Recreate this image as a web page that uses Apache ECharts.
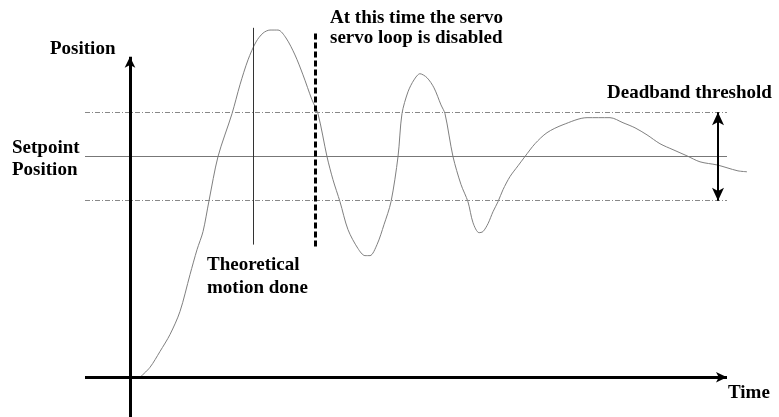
<!DOCTYPE html>
<html>
<head>
<meta charset="utf-8">
<script src="https://cdn.jsdelivr.net/npm/echarts@6/dist/echarts.min.js"></script>
<style>html,body{margin:0;padding:0;background:#fff;}#c{width:779px;height:417px;}</style>
</head>
<body>
<div id="c"></div>
<script>
// Response curve: time vs position (setpoint = 1)
const responseTime = [1.67,3.33,5,6.67,8.33,10,11.17,12.17,13.17,14.67,17,18.33,19.67,21,22.17,23.33,24.67,26,27.5,28.83,30.33,31.33,32.83,33.83,35,36.33,38,39.17,40,41.17,42.33,43.5,44.67,45.33,46.33,47.33,48.33,49.5,50.67,51.83,52.5,53.83,55.17,56.33,57.17,58.17,58.83,59.67,60.5,61.33,62.17,63.33,64.67,65.83,67.5,69.5,72.17,76.17,80,82.17,84.17,86.17,88.33,90.5,92.83,95,97.83,99.5,101.33,102.83];
const responsePos = [0,0.045,0.117,0.194,0.298,0.465,0.578,0.66,0.8,1.0,1.194,1.325,1.438,1.519,1.559,1.573,1.573,1.537,1.46,1.37,1.257,1.194,1.0,0.895,0.795,0.669,0.583,0.551,0.551,0.601,0.691,0.795,1.0,1.194,1.293,1.347,1.375,1.357,1.311,1.234,1.194,1.0,0.873,0.795,0.7,0.655,0.66,0.696,0.75,0.795,0.85,0.909,0.958,1.0,1.058,1.108,1.144,1.176,1.176,1.153,1.13,1.098,1.058,1.031,1.003,0.976,0.962,0.949,0.935,0.931];

const setpoint = 1.0;
const deadband = 0.2;
const refLineSpan = [-7.5, 99.5];          // time extent of horizontal reference lines
const timeAxisSpan = [-7.5, 99.5];         // drawn time axis
const positionAxisSpan = [-0.18, 1.452];   // drawn position axis
const theoreticalDone = {t: 20.5, span: [0.601, 1.583]};
const servoDisabled = {t: 30.83, span: [0.592, 1.565]};
const deadbandArrowT = 98;

const curve = responseTime.map((t, i) => [t, responsePos[i]]);
const font = '"Liberation Serif", "Times New Roman", serif';

function seg(a, b, style, symbols, size) {
  return {
    type: 'line', silent: true, symbol: 'none', animation: false,
    data: [],
    markLine: {
      silent: true, animation: false,
      symbol: symbols || ['none', 'none'],
      symbolSize: size || [8, 11],
      label: {show: false},
      lineStyle: style,
      emphasis: {disabled: true},
      data: [[{coord: a}, {coord: b}]]
    }
  };
}

const chart = echarts.init(document.getElementById('c'), null, {renderer: 'canvas'});
const txt = (x, y, s) => ({type: 'text', left: x, top: y, silent: true,
  style: {text: s, font: 'bold 19px ' + font, fill: '#000'}});

chart.setOption({
  backgroundColor: '#fff',
  animation: false,
  grid: {left: 10, right: 13, top: 2, bottom: 0},
  xAxis: {type: 'value', min: -20, max: 106, show: false},
  yAxis: {type: 'value', min: -0.18, max: 1.7, show: false},
  series: [
    seg([refLineSpan[0], setpoint + deadband], [refLineSpan[1], setpoint + deadband], {color: '#888', width: 1, type: [5, 2, 1, 2]}),
    seg([refLineSpan[0], setpoint - deadband], [refLineSpan[1], setpoint - deadband], {color: '#888', width: 1, type: [5, 2, 1, 2]}),
    seg([refLineSpan[0], setpoint], [refLineSpan[1], setpoint], {color: '#777', width: 1, type: 'solid'}),
    seg([theoreticalDone.t, theoreticalDone.span[0]], [theoreticalDone.t, theoreticalDone.span[1]], {color: '#333', width: 1, type: 'solid'}),
    seg([servoDisabled.t, servoDisabled.span[0]], [servoDisabled.t, servoDisabled.span[1]], {color: '#000', width: 3, type: [6, 3]}),
    seg([timeAxisSpan[0], 0], [timeAxisSpan[1], 0], {color: '#000', width: 3, type: 'solid'}, ['none', 'arrow'], [8, 11]),
    seg([0, positionAxisSpan[0]], [0, positionAxisSpan[1]], {color: '#000', width: 3, type: 'solid'}, ['none', 'arrow'], [8, 11]),
    seg([deadbandArrowT, setpoint - deadband], [deadbandArrowT, setpoint + deadband], {color: '#000', width: 2, type: 'solid'}, ['arrow', 'arrow'], [9, 13]),
    {
      type: 'line', data: curve, smooth: 0.3, symbol: 'none', silent: true,
      lineStyle: {color: '#808080', width: 1}
    }
  ],
  graphic: [
    txt(50, 40, 'Position'),
    txt(330, 9, 'At this time the servo'),
    txt(330, 29, 'servo loop is disabled'),
    txt(607, 84, 'Deadband threshold'),
    txt(12, 139, 'Setpoint'),
    txt(12, 161, 'Position'),
    txt(207, 256, 'Theoretical'),
    txt(207, 279, 'motion done'),
    txt(728, 384, 'Time')
  ]
});
</script>
</body>
</html>
